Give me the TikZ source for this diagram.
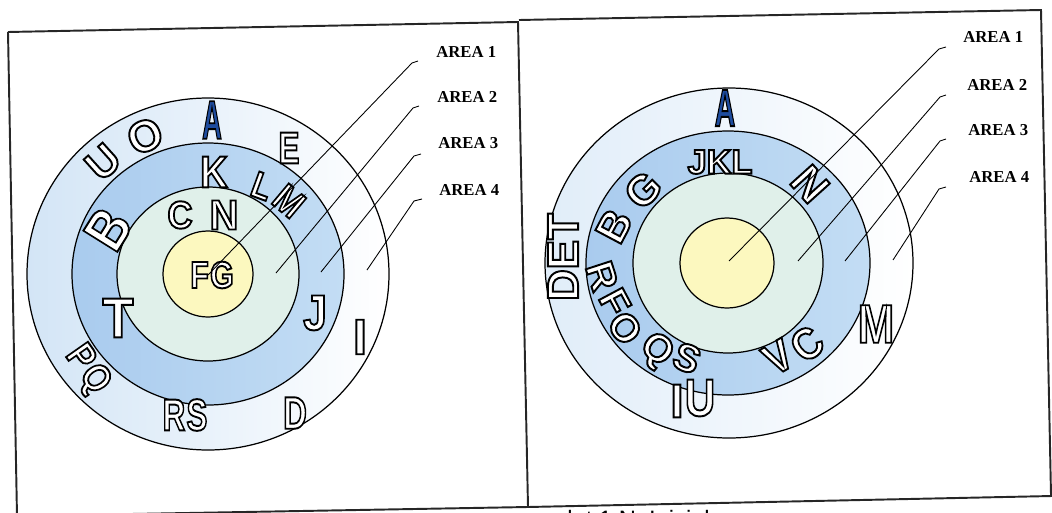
\documentclass[tikz,border=0pt]{standalone}
\usepackage{fontspec}
\setmainfont{Liberation Serif}
\newfontfamily\ltrfont{Liberation Sans}
\usepackage{xcolor}
\definecolor{ringout}{HTML}{D3E5F6}
\definecolor{ringblue}{HTML}{A9CBEE}
\definecolor{ringblueR}{HTML}{C3DDF4}
\definecolor{ringgreen}{HTML}{E0F0EA}
\definecolor{coreyellow}{HTML}{FCF8BF}
\definecolor{ltrblue}{HTML}{1E4C9E}
% hollow letters: white fill, black stroke (text render mode 2)
\newcommand\hollow[1]{\special{pdf:literal 2 Tr 1.1 w 0 G}#1\special{pdf:literal 0 Tr}}

\begin{document}
\begin{tikzpicture}[x=0.2mm, y=-0.2mm,
  frame/.style={line width=1.1pt, black!85},
  ring/.style={draw=black, line width=0.7pt},
  lead/.style={draw=black, line width=0.5pt},
  area/.style={font=\bfseries\fontsize{9.5}{9.5}\selectfont, inner sep=0pt, anchor=west},
  ltr/.style={font=\ltrfont\bfseries\fontsize{#1}{#1}\selectfont, inner sep=0pt, text=white},
  ltr/.default=24
]
  \useasboundingbox (0,0) rectangle (1052,513);
  \begin{scope}
  \clip (0,0) rectangle (1052,513);

  % Frames
  \draw[frame] (8,32) -- (518,22) -- (528,507);
  \draw[frame] (8,32) -- (17,516);
  \draw[frame] (17,516) -- (528,507) -- (1052,496);
  \draw[frame] (519,20) -- (1041,10) -- (1051,495);

  % Left rings
  \shade[left color=ringout, right color=white] (208,274) ellipse [x radius=181, y radius=176];
  \shade[left color=ringblue, right color=ringblueR] (208,274) ellipse [x radius=136, y radius=131];
  \fill[ringgreen] (208,274) ellipse [x radius=91, y radius=87];
  \fill[coreyellow] (208,274) ellipse [x radius=45, y radius=43];
  \foreach \rx/\ry in {181/176, 136/131, 91/87, 45/43}
    \draw[ring] (208,274) ellipse [x radius=\rx, y radius=\ry];

  % Right rings
  \shade[left color=ringout!70, right color=white] (729,263) ellipse [x radius=184, y radius=175];
  \shade[left color=ringblue, right color=ringblueR] (728,263) ellipse [x radius=142, y radius=132];
  \fill[ringgreen] (728,263) ellipse [x radius=95, y radius=90];
  \fill[coreyellow] (727,263) ellipse [x radius=47, y radius=45];
  \draw[ring] (729,263) ellipse [x radius=184, y radius=175];
  \draw[ring] (728,263) ellipse [x radius=142, y radius=132];
  \draw[ring] (728,263) ellipse [x radius=95, y radius=90];
  \draw[ring] (727,263) ellipse [x radius=47, y radius=45];

  % Letters, left
  \node[ltr=31, text=ltrblue, xscale=0.5] (la) at (212,120) {\hollow{A}};
  \node[ltr=24, rotate=42] (lu) at (103,162) {\hollow{U}};
  \node[ltr=25, rotate=24] (lo) at (145,136) {\hollow{O}};
  \node[ltr=25.5, xscale=0.7] (le) at (289,148) {\hollow{E}};
  \node[ltr=25.5, xscale=0.85] (lk) at (214,172) {\hollow{K}};
  \node[ltr=21, rotate=-20, xscale=0.85] (ll) at (262,186) {\hollow{L}};
  \node[ltr=22, rotate=-40, xscale=0.85] (lm) at (289,201) {\hollow{M}};
  \node[ltr=22, xscale=0.9] (lc) at (180,215) {\hollow{C}};
  \node[ltr=24, xscale=0.95] (ln) at (224,215) {\hollow{N}};
  \node[ltr=21.5, xscale=0.8] (lfg) at (212,275) {\hollow{F\kern1pt G}};
  \node[ltr=33, rotate=58, xscale=0.85] (lb) at (108,229) {\hollow{B}};
  \node[ltr=32, xscale=0.9] (lt) at (118,318) {\hollow{T}};
  \node[ltr=28.5, xscale=0.85] (lj) at (315,313) {\hollow{J}};
  \node[ltr=28.5] (li) at (360,337) {\hollow{I}};
  \node[ltr=22, rotate=-55, xscale=0.85] (lpq) at (87,370) {\hollow{P\kern1.5pt Q}};
  \node[ltr=25.5, xscale=0.7] (lrs) at (185,415) {\hollow{R\kern1pt S}};
  \node[ltr=26, xscale=0.72] (ld) at (295,413) {\hollow{D}};

  % Letters, right
  \node[ltr=30, text=ltrblue, xscale=0.54] (ra) at (725,108) {\hollow{A}};
  \node[ltr=19.5] (rjkl) at (720,162) {\hollow{JKL}};
  \node[ltr=25, rotate=-48] (rn) at (810,184) {\hollow{N}};
  \node[ltr=24, rotate=45] (rg) at (643,190) {\hollow{G}};
  \node[ltr=24, rotate=62] (rb) at (614,226) {\hollow{B}};
  \node[ltr=25, rotate=90] (rdet) at (563,257) {\hollow{DET}};
  \node[ltr=22, rotate=-72] (rr) at (602,276) {\hollow{R}};
  \node[ltr=22, rotate=-62] (rf) at (615,302) {\hollow{F}};
  \node[ltr=22, rotate=-52] (ro) at (625,328) {\hollow{O}};
  \node[ltr=22, rotate=-38] (rq) at (656,351) {\hollow{Q}};
  \node[ltr=22, rotate=-22] (rs) at (687,358) {\hollow{S}};
  \node[ltr=27] (ri) at (677,401) {\hollow{I}};
  \node[ltr=30, xscale=0.8] (ru) at (700,398) {\hollow{U}};
  \node[ltr=25, rotate=30, xscale=0.9] (rv) at (778,357) {\hollow{V}};
  \node[ltr=25, rotate=38, xscale=0.9] (rc) at (807,344) {\hollow{C}};
  \node[ltr=31, xscale=0.8] (rm) at (876,324) {\hollow{M}};

  % Area labels
  \node[area] (al1) at (436,52) {AREA 1};
  \node[area] (al2) at (437,97) {AREA 2};
  \node[area] (al3) at (438,143) {AREA 3};
  \node[area] (al4) at (439,190) {AREA 4};
  \node[area] (ar1) at (963,37) {AREA 1};
  \node[area] (ar2) at (967,85) {AREA 2};
  \node[area] (ar3) at (968,130) {AREA 3};
  \node[area] (ar4) at (969,177) {AREA 4};

  % Leader ends
  \coordinate (el1) at (208,275);
  \coordinate (el2) at (276,273);
  \coordinate (el3) at (321,272);
  \coordinate (el4) at (367,270);
  \coordinate (er1) at (729,261);
  \coordinate (er2) at (798,261);
  \coordinate (er3) at (845,261);
  \coordinate (er4) at (893,260);

  % Leaders
  \draw[lead] (al1.west) ++(-18,9) coordinate (kl1) -- ++(-6,2) -- (el1);
  \draw[lead] (al2.west) ++(-18,9) coordinate (kl2) -- ++(-6,2) -- (el2);
  \draw[lead] (al3.west) ++(-17,11) coordinate (kl3) -- ++(-7,2) -- (el3);
  \draw[lead] (al4.west) ++(-17,9) coordinate (kl4) -- ++(-8,2) -- (el4);
  \draw[lead] (ar1.west) ++(-17,10) coordinate (kr1) -- ++(-7,2) -- (er1);
  \draw[lead] (ar2.west) ++(-21,10) coordinate (kr2) -- ++(-6,2) -- (er2);
  \draw[lead] (ar3.west) ++(-22,9) coordinate (kr3) -- ++(-6,2) -- (er3);
  \draw[lead] (ar4.west) ++(-23,10) coordinate (kr4) -- ++(-7,2) -- (er4);

  % Caption, cut at the page edge
  \node[font=\ltrfont\fontsize{13.5}{13.5}\selectfont, inner sep=0pt, anchor=north west] (cap) at (567,510) {lat 1 N. Inicial};
  \end{scope}
\end{tikzpicture}
\end{document}
